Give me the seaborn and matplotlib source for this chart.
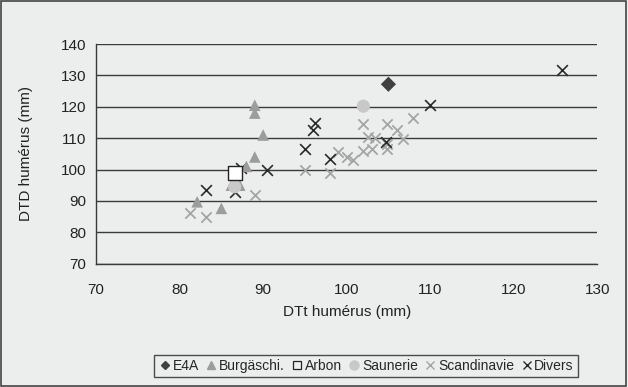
import matplotlib
matplotlib.use("Agg")
import matplotlib.pyplot as plt
import seaborn as sns
import pandas as pd
from matplotlib.lines import Line2D
from matplotlib.patches import Rectangle

sns.set_style("white")
plt.rcParams['font.family'] = ['Liberation Sans', 'DejaVu Sans']

# ---- data ----
e4a_x = [105.0]
e4a_y = [127.2]

burg_x = [89.0, 89.0, 90.0, 89.0, 88.0, 86.2, 87.2, 82.1, 85.0]
burg_y = [120.5, 118.0, 111.0, 104.0, 101.0, 95.0, 95.0, 89.7, 87.6]

arbon_x = [86.6]
arbon_y = [98.8]

saun_x = [102.0, 86.6]
saun_y = [120.2, 94.5]

scand_x = [102.0, 104.8, 108.0, 106.0, 102.6, 103.4, 106.8, 104.8, 104.8, 99.0, 100.0,
           100.8, 102.0, 103.0, 95.0, 98.0, 89.0, 81.2, 83.1]
scand_y = [114.5, 114.5, 116.4, 112.6, 110.4, 110.2, 109.8, 108.2, 106.4, 105.6, 104.0,
           103.1, 106.0, 106.4, 100.0, 98.8, 91.8, 86.2, 84.7]

div_x = [125.8, 110.0, 96.2, 96.0, 95.0, 104.7, 98.0, 90.5, 87.3, 83.2, 86.6]
div_y = [131.7, 120.5, 114.7, 112.6, 106.5, 108.8, 103.2, 99.8, 100.5, 93.6, 92.9]

x_ticks = [70, 80, 90, 100, 110, 120, 130]
y_ticks = [70, 80, 90, 100, 110, 120, 130, 140]

labels = ["E4A", "Burgäschi.", "Arbon", "Saunerie", "Scandinavie", "Divers"]

bg = "#eceeee"
fig = plt.figure(figsize=(6.28, 3.87), dpi=100, facecolor=bg)
ax = fig.add_axes([0.153, 0.319, 0.798, 0.567])
ax.set_facecolor(bg)

for yv in y_ticks:
    ax.axhline(yv, color="#3a3a3a", lw=1.0, zorder=1)

def df(xs, ys):
    return pd.DataFrame({"x": xs, "y": ys})

sns.scatterplot(data=df(scand_x, scand_y), x="x", y="y", ax=ax, marker="x",
                color="#a4a4a4", s=55, linewidth=1.3, zorder=3)
sns.scatterplot(data=df(div_x, div_y), x="x", y="y", ax=ax, marker="x",
                color="#2a2a2a", s=60, linewidth=1.2, zorder=4)
sns.scatterplot(data=df(burg_x, burg_y), x="x", y="y", ax=ax, marker="^",
                color="#9c9c9c", edgecolor="none", s=70, zorder=5)
sns.scatterplot(data=df(saun_x, saun_y), x="x", y="y", ax=ax, marker="o",
                color="#c8c8c8", edgecolor="none", s=90, zorder=5)
sns.scatterplot(data=df(arbon_x, arbon_y), x="x", y="y", ax=ax, marker="s",
                color="white", edgecolor="#222222", linewidth=1.0, s=90, zorder=6)
sns.scatterplot(data=df(e4a_x, e4a_y), x="x", y="y", ax=ax, marker="D",
                color="#404040", edgecolor="none", s=60, zorder=6)

ax.set_xlim(70, 130)
ax.set_ylim(70, 140)
ax.set_xticks(x_ticks)
ax.set_yticks(y_ticks)
ax.set_xticklabels([str(v) for v in x_ticks], fontsize=11, color="#222222")
ax.set_yticklabels([str(v) for v in y_ticks], fontsize=11, color="#222222")
ax.tick_params(axis="x", direction="out", length=4, width=1, color="#3a3a3a", pad=10)
ax.tick_params(axis="y", length=0, pad=7)
for s in ["top", "right"]:
    ax.spines[s].set_visible(False)
for s in ["left", "bottom"]:
    ax.spines[s].set_color("#3a3a3a")
    ax.spines[s].set_linewidth(1.0)
ax.set_xlabel("DTt humérus (mm)", fontsize=11, color="#222222", labelpad=6)
ax.set_ylabel("DTD humérus (mm)", fontsize=11, color="#222222", labelpad=20)

handles = [
    Line2D([], [], ls="none", marker="D", color="#404040", markersize=4.5),
    Line2D([], [], ls="none", marker="^", color="#9c9c9c", markersize=5.5),
    Line2D([], [], ls="none", marker="s", markerfacecolor="none", markeredgecolor="#222222", markersize=6, mew=0.9),
    Line2D([], [], ls="none", marker="o", color="#c8c8c8", markersize=6.5),
    Line2D([], [], ls="none", marker="x", color="#a4a4a4", markersize=6, mew=1.0),
    Line2D([], [], ls="none", marker="x", color="#2a2a2a", markersize=6, mew=1.0),
]
leg = fig.legend(handles, labels, loc="center", bbox_to_anchor=(0.583, 0.055), ncol=6,
                 frameon=True, fancybox=False, fontsize=10, handletextpad=0.1,
                 columnspacing=0.45, borderpad=0.3, handlelength=0.9)
leg.get_frame().set_edgecolor("#222222")
leg.get_frame().set_facecolor(bg)
leg.get_frame().set_linewidth(1.0)

fig.patches.append(Rectangle((0.002, 0.003), 0.995, 0.994, transform=fig.transFigure,
                             fill=False, edgecolor="#444444", lw=1.2))

fig.savefig("out.png", dpi=100, facecolor=bg)
